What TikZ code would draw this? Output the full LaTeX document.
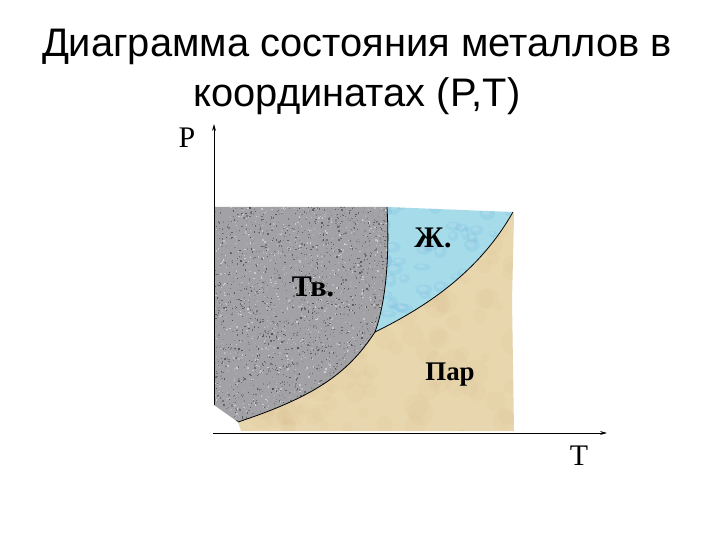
\documentclass[tikz,border=0pt]{standalone}
\usepackage{fontspec}
\setmainfont{Liberation Serif}
\newfontfamily\titlefont{Liberation Sans}
\definecolor{solidc}{HTML}{A2A2A6}
\definecolor{liquidc}{HTML}{A6DCEA}
\definecolor{vaporc}{HTML}{E8D6AE}
\tikzset{
  axis/.style={line width=1pt,-{Stealth[length=7pt,width=4pt]}},
  boundary/.style={line width=0.8pt,black},
  titletext/.style={font=\titlefont\fontsize{40}{48}\selectfont,anchor=base,inner sep=0pt},
  axislabel/.style={font=\fontsize{30}{32}\selectfont,inner sep=0pt},
  phaselabel/.style={font=\bfseries\fontsize{30}{32}\selectfont,inner sep=0pt},
}
\usetikzlibrary{arrows.meta}
\begin{document}
\begin{tikzpicture}[x=1bp,y=-1bp]
\useasboundingbox (0,0) rectangle (720,540);
\fill[white] (0,0) rectangle (720,540);
\coordinate (tp) at (375,332);
\coordinate (sl) at (387,207);
\coordinate (lv) at (513,212);
\coordinate (sv) at (238,422);
\coordinate (stl) at (214,207);
\coordinate (sbl) at (214,405);
% vapour region
\fill[vaporc] (sv) .. controls (320,395) and (350,370) .. (tp)
  .. controls (430,305) and (480,270) .. (lv) -- (514,216) -- (512,300) -- (514,431) -- (241,431) -- cycle;
\begin{scope}
\clip (sv) .. controls (320,395) and (350,370) .. (tp)
  .. controls (430,305) and (480,270) .. (lv) -- (514,216) -- (512,300) -- (514,431) -- (241,431) -- cycle;
\pgfmathsetseed{7}
\foreach \i in {1,...,160}{
  \pgfmathsetmacro\px{240+275*rnd}
  \pgfmathsetmacro\py{215+218*rnd}
  \pgfmathsetmacro\rr{4+10*rnd}
  \fill[brown!60!vaporc,opacity=0.05] (\px,\py) circle[radius=\rr];
}
\end{scope}
% solid region
\fill[solidc] (stl) -- (sl) .. controls (390,260) and (385,305) .. (tp)
  .. controls (350,370) and (320,395) .. (sv) -- (sbl) -- cycle;
\begin{scope}
\clip (stl) -- (sl) .. controls (390,260) and (385,305) .. (tp)
  .. controls (350,370) and (320,395) .. (sv) -- (sbl) -- cycle;
\pgfmathsetseed{11}
\foreach \i in {1,...,3200}{
  \pgfmathsetmacro\px{213+177*rnd}
  \pgfmathsetmacro\py{206+218*rnd}
  \pgfmathtruncatemacro\g{18+50*rnd}
  \fill[black!\g] (\px,\py) rectangle ++(1.3,1.3);
}
\end{scope}
% liquid region
\fill[liquidc] (sl) -- (lv) .. controls (480,270) and (430,305) .. (tp)
  .. controls (385,305) and (390,260) .. (sl) -- cycle;
\begin{scope}
\clip (sl) -- (lv) .. controls (480,270) and (430,305) .. (tp)
  .. controls (385,305) and (390,260) .. (sl) -- cycle;
\pgfmathsetseed{3}
\foreach \i in {1,...,70}{
  \pgfmathsetmacro\px{380+135*rnd}
  \pgfmathsetmacro\py{205+130*rnd}
  \pgfmathsetmacro\ra{4+5*rnd}
  \pgfmathsetmacro\rb{3+4*rnd}
  \fill[cyan!50!blue,opacity=0.07] (\px,\py) ellipse[x radius=\ra,y radius=\rb];
  \fill[white,opacity=0.15] (\px-1,\py-1) ellipse[x radius=0.5*\ra,y radius=0.45*\rb];
}
\end{scope}
% phase boundaries
\draw[boundary] (sv) .. controls (320,395) and (350,370) .. (tp);
\draw[boundary] (tp) .. controls (385,305) and (390,260) .. (sl);
\draw[boundary] (tp) .. controls (430,305) and (480,270) .. (lv);
% axes
\coordinate (yb) at (214,405);
\coordinate (yt) at (214,124);
\coordinate (xl) at (213,433);
\coordinate (xr) at (607,433);
\draw[axis] (yb) -- (yt);
\draw[axis] (xl) -- (xr);
\node[axislabel] (P) at (187,138) {P};
\node[axislabel] (T) at (579,456) {T};
% phase labels
\node[phaselabel] (zh) at (433,238) {Ж.};
\node[phaselabel] (tv) at (313,287) {Тв.};
\node[phaselabel,font=\bfseries\fontsize{27}{29}\selectfont] (par) at (450,375) {Пар};
% title
\node[titletext] (t1) at (357,57) {Диаграмма состояния металлов в};
\node[titletext] (t2) at (357,107) {координатах (P,T)};
\end{tikzpicture}
\end{document}
